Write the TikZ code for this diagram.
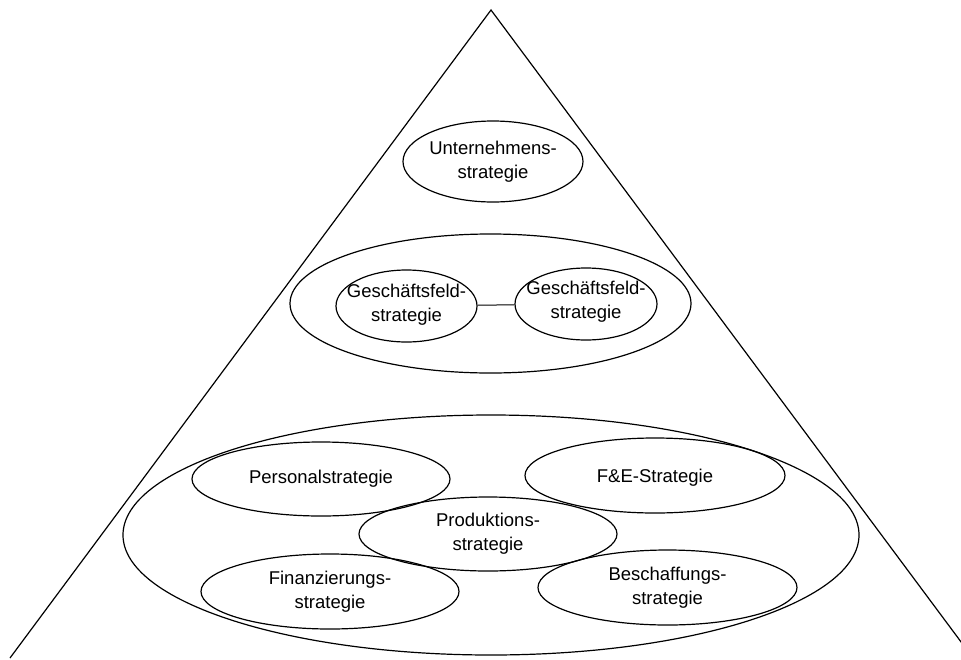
\documentclass[tikz,border=0pt]{standalone}
\usepackage{fontspec}
\setmainfont{Liberation Sans}
\usetikzlibrary{shapes.geometric}
\begin{document}
\begin{tikzpicture}[x=1pt,y=-1pt,
  oval/.style={ellipse, draw, line width=1.2pt, inner sep=0pt},
  lbl/.style={align=center, inner sep=0pt, font=\fontsize{18.5}{24}\selectfont},
  edge/.style={line width=1.2pt}]
\useasboundingbox (0,0) rectangle (961,659);
\clip (0,0) rectangle (961,659);

% pyramid sides
\coordinate (apex) at (491,10);
\coordinate (bl) at (10,658);
\coordinate (br) at (973,658);
\draw[edge] (bl) -- (apex) -- (br);

% corporate level
\node[oval, minimum width=180, minimum height=81] (unt) at (493,161.5) {};
\node[lbl] (untL) at (unt) {Unternehmens-\\strategie};

% business unit level
\node[oval, minimum width=401, minimum height=139] (gfall) at (490.5,303.5) {};
\node[oval, minimum width=141, minimum height=72] (gf1) at (406.5,306) {};
\node[lbl] (gf1L) at (406.5,305) {Geschäftsfeld-\\strategie};
\node[oval, minimum width=142, minimum height=72] (gf2) at (586,304) {};
\node[lbl] (gf2L) at (586,302) {Geschäftsfeld-\\strategie};
\draw[line width=1pt] (gf1) -- (gf2);

% functional level
\node[oval, minimum width=736, minimum height=240] (fall) at (491,535) {};
\node[oval, minimum width=258, minimum height=74] (pers) at (321,479) {};
\node[lbl] (persL) at (pers) {Personalstrategie};
\node[oval, minimum width=260, minimum height=75] (fe) at (655,475.5) {};
\node[lbl] (feL) at (655,478) {F\&E-Strategie};
\node[oval, minimum width=258, minimum height=74] (prod) at (488,534) {};
\node[lbl] (prodL) at (prod) {Produktions-\\strategie};
\node[oval, minimum width=258, minimum height=75] (fin) at (330,591.5) {};
\node[lbl] (finL) at (fin) {Finanzierungs-\\strategie};
\node[oval, minimum width=259, minimum height=75] (bes) at (667.5,587.5) {};
\node[lbl] (besL) at (bes) {Beschaffungs-\\strategie};
\end{tikzpicture}
\end{document}
